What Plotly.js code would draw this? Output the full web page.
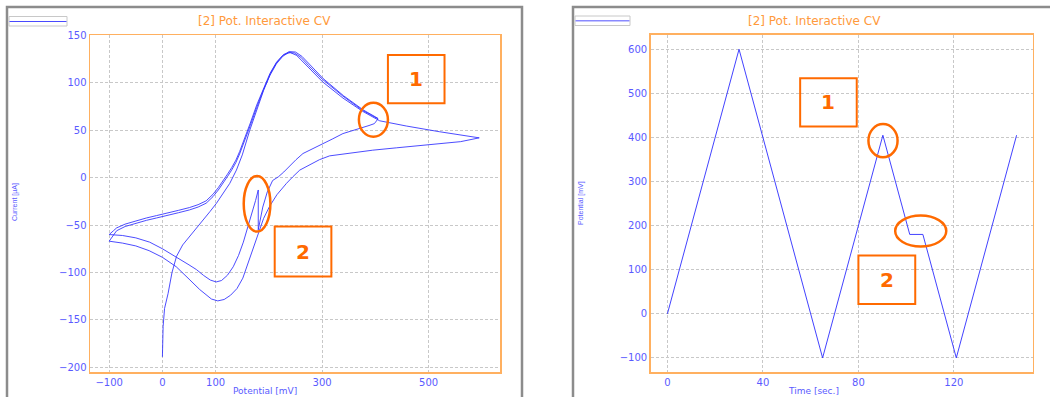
<!DOCTYPE html>
<html><head><meta charset="utf-8">
<script src="https://cdn.plot.ly/plotly-3.0.1.min.js"></script>
<style>html,body{margin:0;padding:0;background:#fff;overflow:hidden}#chart{width:1050px;height:397px}</style>
</head><body><div id="chart"></div>
<script>
// ---- Data: cyclic voltammogram segments (Potential [mV], Current [µA]) ----
// Scan 1 forward 0 -> 600 mV
const scan1FwdE = [0, 0.5, 1.3, 4, 10.7, 18, 26.5, 38, 51.4, 64, 76.4, 89, 101.5, 114, 126.5, 139, 150, 164, 177, 190, 203, 215, 228, 240, 252, 270, 301, 339, 376, 408, 458, 520, 560, 595];
const scan1FwdI = [-189, -172, -157, -138, -122, -100, -83, -71, -62, -53, -44.6, -36, -27, -17, -6, 8, 24, 50, 72, 92, 110, 122, 130, 132, 129, 119, 101, 84, 70, 60, 54.5, 48.5, 45, 42];
// Scan 1 reverse 600 -> -100 mV
const scan1RevE = [595, 560, 520, 489, 440, 395, 351, 314, 295, 270, 258, 245, 233, 215, 201.5, 190, 182.7, 170, 160, 151, 140, 128, 116, 104, 92, 80, 70, 50, 26, 0, -25, -50, -75, -100];
const scan1RevI = [42, 38, 36, 34.5, 31.5, 29, 26, 23, 19, 12, 8, 1, -6, -18, -30, -43, -55, -75, -92, -106, -117, -124, -128.5, -130, -128, -123, -118, -107, -94, -84, -77, -72, -69, -67];
// Scan 2 forward -100 -> 405 mV
const scan2FwdE = [-100, -92, -86, -70, -50, -30, -11, 10, 30, 51, 67, 82, 95, 105, 114, 122, 130, 138, 145, 155, 165, 177, 190, 202, 214, 226, 237, 248, 260, 275, 300, 339, 376, 405];
const scan2FwdI = [-67, -60, -56, -51.5, -48, -45, -42.5, -40, -37, -34, -31, -27, -20, -13, -6, 1, 8, 16, 25, 39, 55, 74, 93, 108, 120, 128, 132, 131.5, 127, 118, 104, 86, 71, 62];
// Scan 2 reverse 405 -> 180 mV (interrupted)
const scan2RevE = [405, 398, 388, 377, 360, 339, 320, 301, 283, 264, 251, 239, 228, 218, 207, 197, 188.5, 180];
const scan2RevI = [62, 57, 55, 53, 50, 46.5, 41, 36, 31, 25.5, 19, 12, 6, 1, -3, -15, -31, -55];
// Hold at 180 mV
const holdE = [180, 180, 180];
const holdI = [-55, -25, -13];
// Scan 2 reverse continued 180 -> -100 mV
const scan2Rev2E = [180, 175, 168, 161, 152, 143, 133, 122, 111, 101, 90, 77, 64, 50, 35, 20, 0, -24, -50, -75, -100];
const scan2Rev2I = [-13, -24, -38, -52, -68, -82, -94, -103, -108.5, -110, -108, -103, -97, -92, -87, -81.5, -75, -68, -63.5, -61, -60];
// Scan 3 forward -100 -> 405 mV
const scan3FwdE = [-100, -92, -86, -70, -50, -30, -11, 10, 30, 51, 67, 82, 95, 105, 114, 122, 130, 138, 145, 155, 165, 177, 190, 202, 214, 226, 238, 250, 262, 277, 302, 340, 377, 405];
const scan3FwdI = [-60, -56, -53, -49, -45.5, -42.5, -40, -37.5, -34.5, -31.5, -28.5, -24.5, -17.5, -10.5, -3.5, 3.5, 10.5, 18.5, 27.5, 41.5, 57.5, 76.5, 95, 110, 121.5, 129, 133, 132.5, 128, 119, 104.5, 86.5, 71.5, 62.5];

// ---- Data: applied potential program (Time [sec.], Potential [mV]) ----
const timeSec = [0, 30, 65, 90.25, 101.5, 107, 121, 146.25];
const potentialMv = [0, 600, -100, 405, 180, 180, -100, 405];

// ---- Tick labels ----
const cvXTicks = [-100, 0, 100, 300, 500];
const timeTicks = [0, 40, 80, 120];
const chartTitle = '[2] Pot. Interactive CV';

const cvE = [].concat(scan1FwdE, scan1RevE, scan2FwdE, scan2RevE, holdE, scan2Rev2E, scan3FwdE);
const cvI = [].concat(scan1FwdI, scan1RevI, scan2FwdI, scan2RevI, holdI, scan2Rev2I, scan3FwdI);

const W = 1050, H = 397;
const px = x => x / W;
const py = y => 1 - y / H;

const tickBlue = '#5a5aff';
const orangeFrame = '#ffb060';
const gridCol = '#c8c8c8';
const annOrange = '#ff6a00';

const axisCommon = {
  showgrid: true, gridcolor: gridCol, griddash: '3px,2px', gridwidth: 1,
  zeroline: false, showline: true, linecolor: orangeFrame, linewidth: 1.5, mirror: true,
  ticks: '', tickfont: {family: 'DejaVu Sans', size: 10, color: tickBlue}, fixedrange: true
};

const traces = [
  {x: cvE, y: cvI, xaxis: 'x', yaxis: 'y', type: 'scatter', mode: 'lines',
   line: {color: 'rgba(45,45,255,0.85)', width: 1}, hoverinfo: 'skip'},
  {x: timeSec, y: potentialMv, xaxis: 'x2', yaxis: 'y2', type: 'scatter', mode: 'lines',
   line: {color: 'rgba(45,45,255,0.9)', width: 1}, hoverinfo: 'skip'}
];

const frameLine = {color: '#8c8c8c', width: 2.5};
const shapes = [
  // panel frames
  {type: 'rect', xref: 'paper', yref: 'paper', x0: px(7), x1: px(522), y0: py(430), y1: py(7), line: frameLine},
  {type: 'rect', xref: 'paper', yref: 'paper', x0: px(573), x1: px(1120), y0: py(430), y1: py(7), line: frameLine},
  // legend boxes
  {type: 'rect', xref: 'paper', yref: 'paper', x0: px(9), x1: px(67), y0: py(26), y1: py(16.5), line: {color: '#c8c8c8', width: 1}},
  {type: 'line', xref: 'paper', yref: 'paper', x0: px(9.5), x1: px(66.5), y0: py(21.5), y1: py(21.5), line: {color: '#4a4aff', width: 1.2}},
  {type: 'rect', xref: 'paper', yref: 'paper', x0: px(575), x1: px(630), y0: py(25.5), y1: py(16), line: {color: '#c8c8c8', width: 1}},
  {type: 'line', xref: 'paper', yref: 'paper', x0: px(575.5), x1: px(629.5), y0: py(20.7), y1: py(20.7), line: {color: '#8a8aff', width: 1.6}},
  // left highlights
  {type: 'rect', xref: 'x', yref: 'y', x0: 423.5, x1: 529.8, y0: 78.4, y1: 129.3, line: {color: annOrange, width: 2}},
  {type: 'circle', xref: 'x', yref: 'y', x0: 369, x1: 423.5, y0: 43.2, y1: 79, line: {color: annOrange, width: 2.5}},
  {type: 'circle', xref: 'x', yref: 'y', x0: 152.7, x1: 202.8, y0: -56.9, y1: 1.8, line: {color: annOrange, width: 2.5}},
  {type: 'rect', xref: 'x', yref: 'y', x0: 210.9, x1: 317.3, y0: -104.3, y1: -51.6, line: {color: annOrange, width: 2}},
  // right highlights
  {type: 'rect', xref: 'x2', yref: 'y2', x0: 55.6, x1: 79.3, y0: 424.7, y1: 534.5, line: {color: annOrange, width: 2}},
  {type: 'circle', xref: 'x2', yref: 'y2', x0: 84.2, x1: 96.4, y0: 355.3, y1: 430.2, line: {color: annOrange, width: 2.5}},
  {type: 'circle', xref: 'x2', yref: 'y2', x0: 95.4, x1: 116.8, y0: 152.6, y1: 222.9, line: {color: annOrange, width: 2.5}},
  {type: 'rect', xref: 'x2', yref: 'y2', x0: 80, x1: 103.8, y0: 22, y1: 132.2, line: {color: annOrange, width: 2}}
];

const numFont = {family: 'DejaVu Sans', size: 20, color: annOrange, weight: 'bold'};
const titleFont = {family: 'DejaVu Sans', size: 12, color: '#ff9a3c'};
const smallFont = {family: 'Liberation Sans', size: 7, color: tickBlue};
const xTitleFont = {family: 'DejaVu Sans', size: 9, color: tickBlue};
const annotations = [
  {xref: 'paper', yref: 'paper', x: px(264.5), y: py(21), text: chartTitle, showarrow: false, xanchor: 'center', yanchor: 'middle', font: titleFont},
  {xref: 'paper', yref: 'paper', x: px(814.5), y: py(21), text: chartTitle, showarrow: false, xanchor: 'center', yanchor: 'middle', font: titleFont},
  {xref: 'paper', yref: 'paper', x: px(15), y: py(202), text: 'Current [µA]', textangle: -90, showarrow: false, xanchor: 'center', yanchor: 'middle', font: smallFont},
  {xref: 'paper', yref: 'paper', x: px(581), y: py(203), text: 'Potential [mV]', textangle: -90, showarrow: false, xanchor: 'center', yanchor: 'middle', font: smallFont},
  {xref: 'paper', yref: 'paper', x: px(265), y: py(397), text: 'Potential [mV]', showarrow: false, xanchor: 'center', yanchor: 'bottom', borderpad: 0, font: xTitleFont},
  {xref: 'paper', yref: 'paper', x: px(813), y: py(397), text: 'Time [sec.]', showarrow: false, xanchor: 'center', yanchor: 'bottom', borderpad: 0, font: xTitleFont},
  {xref: 'x', yref: 'y', x: 476.6, y: 103.8, text: '1', showarrow: false, xanchor: 'center', yanchor: 'middle', font: numFont},
  {xref: 'x', yref: 'y', x: 264.1, y: -78, text: '2', showarrow: false, xanchor: 'center', yanchor: 'middle', font: numFont},
  {xref: 'x2', yref: 'y2', x: 67.4, y: 479.6, text: '1', showarrow: false, xanchor: 'center', yanchor: 'middle', font: numFont},
  {xref: 'x2', yref: 'y2', x: 91.9, y: 77.1, text: '2', showarrow: false, xanchor: 'center', yanchor: 'middle', font: numFont}
];

const layout = {
  width: W, height: H, margin: {l: 0, r: 0, t: 0, b: 0},
  paper_bgcolor: '#ffffff', plot_bgcolor: '#ffffff', showlegend: false,
  font: {family: 'DejaVu Sans', size: 10, color: tickBlue},
  xaxis: Object.assign({}, axisCommon, {domain: [px(90), px(500)], range: [-136, 634], tickvals: cvXTicks, anchor: 'y'}),
  yaxis: Object.assign({}, axisCommon, {domain: [py(372), py(35)], range: [-205, 150.5], dtick: 50, tick0: 0, anchor: 'x'}),
  xaxis2: Object.assign({}, axisCommon, {domain: [px(650.7), px(1032.7)], range: [-7, 153], tickvals: timeTicks, anchor: 'y2'}),
  yaxis2: Object.assign({}, axisCommon, {domain: [py(372), py(34.7)], range: [-132, 633], dtick: 100, tick0: 0, anchor: 'x2'}),
  shapes: shapes,
  annotations: annotations
};

Plotly.newPlot('chart', traces, layout, {staticPlot: true, displayModeBar: false});
</script></body></html>
